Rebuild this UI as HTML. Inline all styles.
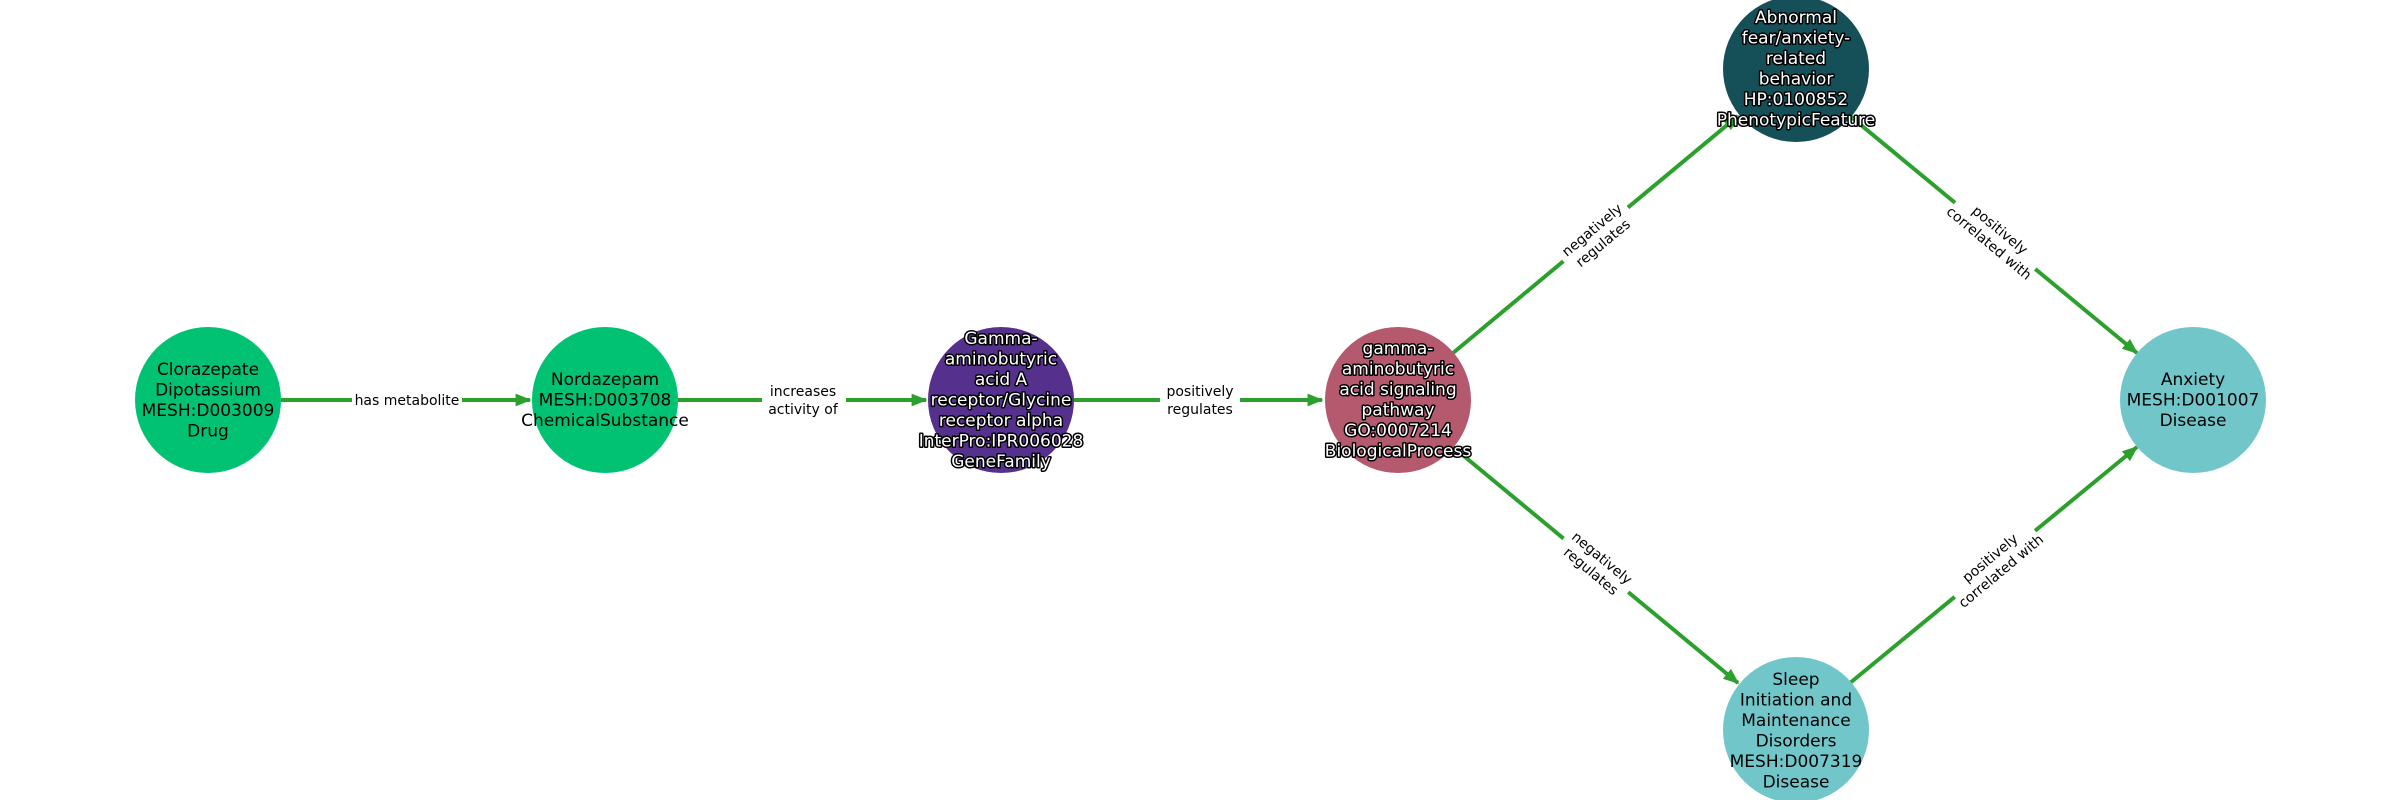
<!DOCTYPE html>
<html><head><meta charset="utf-8"><style>
html,body{margin:0;padding:0;background:#fff;}
svg{display:block;}
text{font-family:"DejaVu Sans","Liberation Sans",sans-serif;}
.n{font-size:17px;text-anchor:middle;}
.w{fill:#fff;stroke:#000;stroke-width:3px;paint-order:stroke;stroke-linejoin:round;}
.e{font-size:14px;text-anchor:middle;fill:#000;}
.bg{fill:#fff;}
</style></head><body>
<svg width="2400" height="800" viewBox="0 0 2400 800" xmlns="http://www.w3.org/2000/svg">
<defs>
<marker id="a" viewBox="0 0 10 10" refX="9" refY="5" markerWidth="4" markerHeight="4" orient="auto" markerUnits="strokeWidth">
<path d="M0,1 L10,5 L0,9 z" fill="#2ca02c"/></marker>
</defs>
<g stroke="#2ca02c" stroke-width="4" fill="none" marker-end="url(#a)">
<line x1="281" y1="400" x2="530" y2="400"/>
<line x1="678" y1="400" x2="926" y2="400"/>
<line x1="1074" y1="400" x2="1322" y2="400"/>
<line x1="1453" y1="353" x2="1738" y2="116"/>
<line x1="1453" y1="447" x2="1738" y2="683"/>
<line x1="1850" y1="116" x2="2137" y2="353"/>
<line x1="1850" y1="683" x2="2137" y2="447"/>
</g>
<!-- edge labels -->
<rect class="bg" x="352" y="389" width="110" height="22"/>
<text class="e" x="407" y="405">has metabolite</text>
<rect class="bg" x="762" y="378" width="84" height="44"/>
<text class="e" x="803" y="396">increases</text><text class="e" x="803" y="414">activity of</text>
<rect class="bg" x="1160" y="378" width="80" height="44"/>
<text class="e" x="1200" y="396">positively</text><text class="e" x="1200" y="414">regulates</text>
<g transform="translate(1597,236) rotate(-39.8)"><rect class="bg" x="-42" y="-20" width="84" height="40"/>
<text class="e" y="-3">negatively</text><text class="e" y="14">regulates</text></g>
<g transform="translate(1597,564) rotate(39.8)"><rect class="bg" x="-42" y="-20" width="84" height="40"/>
<text class="e" y="-3">negatively</text><text class="e" y="14">regulates</text></g>
<g transform="translate(1995,236) rotate(39.8)"><rect class="bg" x="-52" y="-20" width="104" height="40"/>
<text class="e" y="-3">positively</text><text class="e" y="14">correlated with</text></g>
<g transform="translate(1995,564) rotate(-39.8)"><rect class="bg" x="-52" y="-20" width="104" height="40"/>
<text class="e" y="-3">positively</text><text class="e" y="14">correlated with</text></g>
<!-- nodes -->
<circle cx="208" cy="400" r="73" fill="#00c272"/>
<circle cx="605" cy="400" r="73" fill="#00c272"/>
<circle cx="1001" cy="400" r="73" fill="#55308d"/>
<circle cx="1398" cy="400" r="73" fill="#b5596f"/>
<circle cx="1796" cy="69" r="73" fill="#154f57"/>
<circle cx="2193" cy="400" r="73" fill="#71c6ca"/>
<circle cx="1796" cy="730" r="73" fill="#71c6ca"/>
<text class="n" x="208" y="375"><tspan x="208">Clorazepate</tspan><tspan x="208" dy="20.5">Dipotassium</tspan><tspan x="208" dy="20.5">MESH:D003009</tspan><tspan x="208" dy="20.5">Drug</tspan></text>
<text class="n" x="605" y="385"><tspan x="605">Nordazepam</tspan><tspan x="605" dy="20.5">MESH:D003708</tspan><tspan x="605" dy="20.5">ChemicalSubstance</tspan></text>
<text class="n w" x="1001" y="344"><tspan x="1001">Gamma-</tspan><tspan x="1001" dy="20.5">aminobutyric</tspan><tspan x="1001" dy="20.5">acid A</tspan><tspan x="1001" dy="20.5">receptor/Glycine</tspan><tspan x="1001" dy="20.5">receptor alpha</tspan><tspan x="1001" dy="20.5">InterPro:IPR006028</tspan><tspan x="1001" dy="20.5">GeneFamily</tspan></text>
<text class="n w" x="1398" y="354"><tspan x="1398">gamma-</tspan><tspan x="1398" dy="20.5">aminobutyric</tspan><tspan x="1398" dy="20.5">acid signaling</tspan><tspan x="1398" dy="20.5">pathway</tspan><tspan x="1398" dy="20.5">GO:0007214</tspan><tspan x="1398" dy="20.5">BiologicalProcess</tspan></text>
<text class="n w" x="1796" y="23"><tspan x="1796">Abnormal</tspan><tspan x="1796" dy="20.5">fear/anxiety-</tspan><tspan x="1796" dy="20.5">related</tspan><tspan x="1796" dy="20.5">behavior</tspan><tspan x="1796" dy="20.5">HP:0100852</tspan><tspan x="1796" dy="20.5">PhenotypicFeature</tspan></text>
<text class="n" x="2193" y="385"><tspan x="2193">Anxiety</tspan><tspan x="2193" dy="20.5">MESH:D001007</tspan><tspan x="2193" dy="20.5">Disease</tspan></text>
<text class="n" x="1796" y="685"><tspan x="1796">Sleep</tspan><tspan x="1796" dy="20.5">Initiation and</tspan><tspan x="1796" dy="20.5">Maintenance</tspan><tspan x="1796" dy="20.5">Disorders</tspan><tspan x="1796" dy="20.5">MESH:D007319</tspan><tspan x="1796" dy="20.5">Disease</tspan></text>
</svg>
</body></html>
